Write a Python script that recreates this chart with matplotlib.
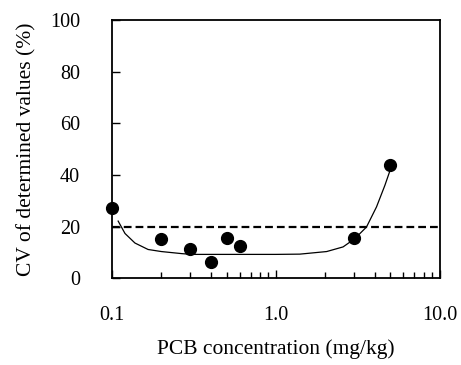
import matplotlib.pyplot as plt
from matplotlib.ticker import FixedLocator, LogLocator, NullFormatter

plt.rcParams["font.family"] = ["Liberation Serif", "DejaVu Serif"]

# measured points
conc = [0.1, 0.2, 0.3, 0.4, 0.5, 0.6, 3.0, 5.0]
cv = [27.0, 15.0, 11.3, 6.3, 15.6, 12.5, 15.4, 43.8]

# fitted curve
curve_x = [0.109, 0.12, 0.138, 0.166, 0.2, 0.266, 0.306, 0.5, 1.0, 1.4,
           2.04, 2.57, 3.03, 3.57, 4.11, 4.62, 4.95]
curve_y = [22.1, 17.3, 13.6, 11.1, 10.3, 9.5, 9.2, 9.2, 9.2, 9.3,
           10.3, 12.1, 15.3, 19.8, 27.6, 35.9, 41.4]

limit = 20
xticks = [0.1, 1.0, 10.0]
xticklabels = ["0.1", "1.0", "10.0"]
yticks = [0, 20, 40, 60, 80, 100]


def main() -> None:
    fig = plt.figure(figsize=(4.61, 3.65), dpi=100)
    ax = fig.add_axes([0.243, 0.238, 0.711, 0.707])

    ax.plot(curve_x, curve_y, color="black", linewidth=0.9)
    ax.axhline(limit, color="black", linewidth=1.6, linestyle=(0, (3.5, 1.8)))
    ax.plot(conc, cv, "o", color="black", markersize=8.5, clip_on=False, zorder=5)

    ax.set_xscale("log")
    ax.set_xlim(0.1, 10)
    ax.set_ylim(0, 100)
    ax.xaxis.set_major_locator(FixedLocator(xticks))
    ax.set_xticklabels(xticklabels)
    ax.xaxis.set_minor_locator(LogLocator(base=10, subs=range(2, 10)))
    ax.xaxis.set_minor_formatter(NullFormatter())
    ax.set_yticks(yticks)

    ax.tick_params(axis="both", which="major", direction="in", length=6,
                   width=1, labelsize=14.5)
    ax.tick_params(axis="x", which="major", pad=20)
    ax.tick_params(axis="y", which="major", pad=23)
    ax.tick_params(axis="x", which="minor", direction="in", length=4, width=1)
    for spine in ax.spines.values():
        spine.set_linewidth(1.3)

    ax.set_xlabel("PCB concentration (mg/kg)", fontsize=15.5, labelpad=10)
    ax.set_ylabel("CV of determined values (%)", fontsize=15.5, labelpad=10)

    fig.savefig("out.png", dpi=100)


if __name__ == "__main__":
    main()
